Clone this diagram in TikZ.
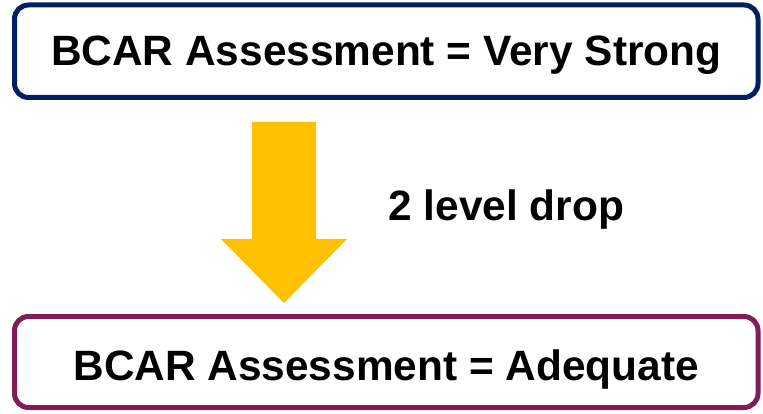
\documentclass[tikz,border=0pt]{standalone}
\usepackage{fontspec}
\setmainfont{Liberation Sans}
\usetikzlibrary{positioning}
\definecolor{bcNavy}{RGB}{0,32,96}
\definecolor{bcPlum}{RGB}{128,28,88}
\definecolor{bcGold}{RGB}{255,192,0}

\tikzset{
  ratingbox/.style={draw, line width=5pt, rounded corners=14pt, fill=white,
    minimum width=743.5pt, minimum height=92pt, inner sep=0pt, text depth=0pt,
    font=\fontsize{42.4}{50}\selectfont\bfseries},
  droplabel/.style={font=\fontsize{42.4}{50}\selectfont\bfseries}
}

\begin{document}
\begin{tikzpicture}[x=1pt,y=-1pt]
  \useasboundingbox (0,0) rectangle (763,414);

  % rating before and after
  \node[ratingbox, draw=bcNavy, text height=29.5pt, minimum height=92.5pt]
    (before) at (386.25,51.25) {BCAR Assessment = Very Strong};
  \node[ratingbox, draw=bcPlum, text height=36pt, minimum height=91pt]
    (after) at (386.25,362) {BCAR Assessment = Adequate};

  % the drop arrow
  \fill[bcGold] (252,122) -- (316,122) -- (316,239) -- (347,239)
    -- (284,303) -- (221,239) -- (252,239) -- cycle;
  \node[droplabel, anchor=base west] (drop) at (385,221) {2 level drop};
\end{tikzpicture}
\end{document}
